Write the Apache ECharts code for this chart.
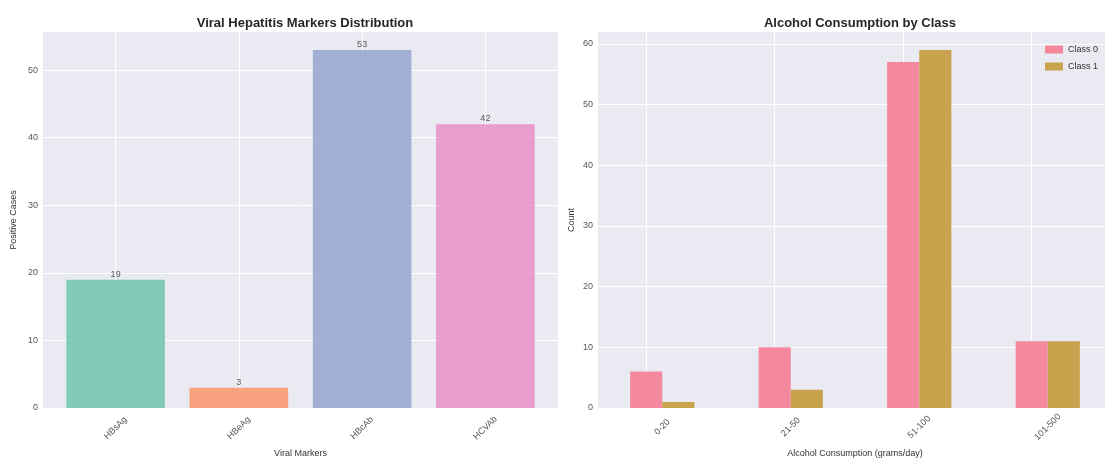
<!DOCTYPE html>
<html>
<head>
<meta charset="utf-8">
<script src="https://cdn.jsdelivr.net/npm/echarts@6/dist/echarts.min.js"></script>
<style>
html,body{margin:0;padding:0;background:#fff;}
#chart{width:1105px;height:459px;}
</style>
</head>
<body>
<div id="chart"></div>
<script>
// ---- data ----
const markerCategories = ['HBsAg', 'HBeAg', 'HBcAb', 'HCVAb'];
const markerValues = [19, 3, 53, 42];
const alcoholCategories = ['0-20', '21-50', '51-100', '101-500'];
const class0Values = [6, 10, 57, 11];
const class1Values = [1, 3, 59, 11];
const seriesNames = ['Class 0', 'Class 1'];
const leftYTicks = [0, 10, 20, 30, 40, 50];
const rightYTicks = [0, 10, 20, 30, 40, 50, 60];

// ---- styles ----
const FONT = '"Liberation Sans", Arial, sans-serif';
const BG = '#EAEAF2';
const markerColors = ['#66c2a5', '#fc8d62', '#8da0cb', '#e78ac3'];
const classColors = ['#f4889c', '#c8a24c'];
const tickText = { color: '#555', fontSize: 9, fontFamily: FONT };
const nameText = { color: '#333', fontSize: 9, fontFamily: FONT };

const chart = echarts.init(document.getElementById('chart'), null, { renderer: 'canvas' });

const leftMax = Math.max(...markerValues) * 1.05;
const rightMax = Math.max(...class0Values, ...class1Values) * 1.05;

function vLines(cats) {
  return {
    silent: true,
    symbol: ['none', 'none'],
    z: 1,
    label: { show: false },
    lineStyle: { color: '#ffffff', width: 1, type: 'solid' },
    emphasis: { disabled: true },
    data: cats.map(c => ({ xAxis: c }))
  };
}

const gridBase = { top: 32, bottom: 51, outerBoundsMode: 'none', containLabel: false };

const option = {
  backgroundColor: '#ffffff',
  animation: false,
  textStyle: { fontFamily: FONT },
  title: [
    { text: 'Viral Hepatitis Markers Distribution', left: 300, top: 12, textAlign: 'center',
      textStyle: { fontSize: 13, fontWeight: 'bold', color: '#262626', fontFamily: FONT } },
    { text: 'Alcohol Consumption by Class', left: 855, top: 12, textAlign: 'center',
      textStyle: { fontSize: 13, fontWeight: 'bold', color: '#262626', fontFamily: FONT } }
  ],
  legend: {
    data: seriesNames,
    orient: 'vertical',
    left: 1040,
    top: 40,
    itemWidth: 18,
    itemHeight: 8,
    itemGap: 8,
    icon: 'rect',
    textStyle: { color: '#333', fontSize: 9, fontFamily: FONT }
  },
  grid: [
    Object.assign({ left: 43, right: 547, show: true, backgroundColor: BG, borderWidth: 0 }, gridBase),
    Object.assign({ left: 54, right: 558 }, gridBase),
    Object.assign({ left: 598, right: -7, show: true, backgroundColor: BG, borderWidth: 0 }, gridBase)
  ],
  xAxis: [
    { gridIndex: 0, type: 'value', min: 0, max: 1, show: false },
    { gridIndex: 1, type: 'category', data: markerCategories,
      axisLine: { show: false }, axisTick: { show: false }, splitLine: { show: false },
      axisLabel: Object.assign({ rotate: 45, align: 'center', verticalAlign: 'middle', margin: 20 }, tickText),
      name: 'Viral Markers', nameLocation: 'middle', nameGap: 40, nameTextStyle: nameText },
    { gridIndex: 2, type: 'category', data: alcoholCategories,
      axisLine: { show: false }, axisTick: { show: false }, splitLine: { show: false },
      axisLabel: Object.assign({ rotate: 45, align: 'center', verticalAlign: 'middle', margin: 19 }, tickText),
      name: 'Alcohol Consumption (grams/day)', nameLocation: 'middle', nameGap: 40, nameTextStyle: nameText }
  ],
  yAxis: [
    { gridIndex: 0, type: 'value', min: 0, max: leftMax, interval: 10,
      axisLine: { show: false }, axisTick: { show: false },
      splitLine: { show: true, showMaxLine: false, lineStyle: { color: '#ffffff', width: 1 } },
      axisLabel: Object.assign({ margin: 5, showMaxLabel: false,
        formatter: v => leftYTicks.includes(v) ? String(v) : '' }, tickText),
      name: 'Positive Cases', nameLocation: 'middle', nameGap: 25, nameTextStyle: nameText },
    { gridIndex: 1, type: 'value', min: 0, max: leftMax, show: false, splitLine: { show: false } },
    { gridIndex: 2, type: 'value', min: 0, max: rightMax, interval: 10,
      axisLine: { show: false }, axisTick: { show: false },
      splitLine: { show: true, showMaxLine: false, lineStyle: { color: '#ffffff', width: 1 } },
      axisLabel: Object.assign({ margin: 5, showMaxLabel: false,
        formatter: v => rightYTicks.includes(v) ? String(v) : '' }, tickText),
      name: 'Count', nameLocation: 'middle', nameGap: 22, nameTextStyle: nameText }
  ],
  series: [
    { type: 'bar', xAxisIndex: 1, yAxisIndex: 1, data: markerValues, barWidth: '80%', z: 2,
      itemStyle: { color: p => markerColors[p.dataIndex], opacity: 0.8 },
      label: { show: true, position: 'top', distance: 1, color: '#333', fontSize: 9, fontFamily: FONT },
      markLine: vLines(markerCategories) },
    { type: 'bar', name: seriesNames[0], xAxisIndex: 2, yAxisIndex: 2, data: class0Values,
      barWidth: '25%', barGap: '0%', z: 2, itemStyle: { color: classColors[0] },
      markLine: vLines(alcoholCategories) },
    { type: 'bar', name: seriesNames[1], xAxisIndex: 2, yAxisIndex: 2, data: class1Values,
      barWidth: '25%', barGap: '0%', z: 2, itemStyle: { color: classColors[1] } }
  ]
};
chart.setOption(option);
</script>
</body>
</html>
